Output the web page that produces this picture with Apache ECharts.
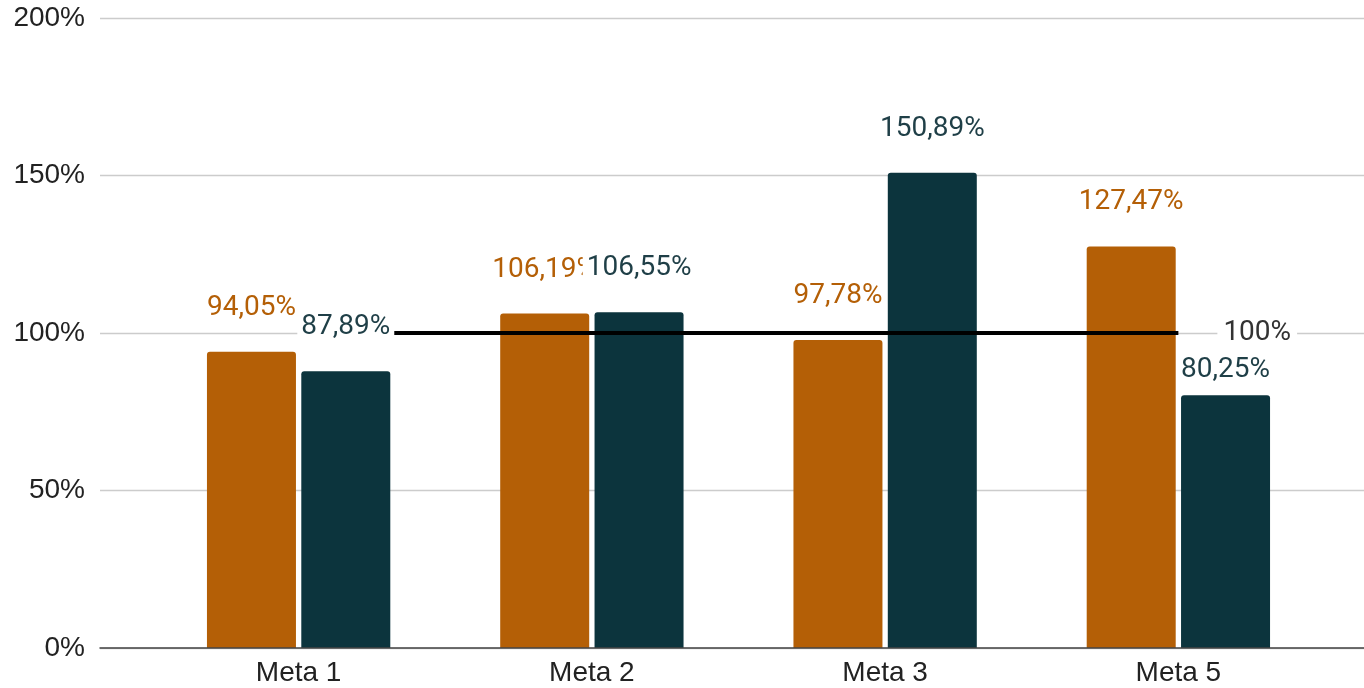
<!DOCTYPE html>
<html>
<head>
<meta charset="utf-8">
<script src="https://cdn.jsdelivr.net/npm/echarts@6/dist/echarts.min.js"></script>
<style>
html,body{margin:0;padding:0;background:#fff;}
#chart{width:1364px;height:688px;}
</style>
</head>
<body>
<div id="chart"></div>
<script>
const categories = ['Meta 1', 'Meta 2', 'Meta 3', 'Meta 5'];
const seriesA = [94.05, 106.19, 97.78, 127.47];
const seriesB = [87.89, 106.55, 150.89, 80.25];
const target = [100, 100, 100, 100];
const yTicks = [0, 50, 100, 150, 200];

const orange = '#b45f06';
const teal = '#0c343d';
const fmt = v => v.toFixed(2).replace('.', ',') + '%';

const labelBase = {
  show: true, position: 'top', fontFamily: 'Roboto', fontSize: 28, lineHeight: 32,
  backgroundColor: '#ffffff', padding: [1, 4]
};
const distA = [27, 27, 27, 27];
const distB = [27, 27, 27, 8];

const chart = echarts.init(document.getElementById('chart'), null, {renderer: 'canvas'});
const barW = 89;
const gap = '6%';

chart.setOption({
  animation: false,
  grid: [
    {left: 100, right: 0, top: 18, bottom: 40},
    {left: 152, right: 39, top: 18, bottom: 40}
  ],
  xAxis: [
    {gridIndex: 0, type: 'category', data: [''], axisLabel: {show: false}, axisTick: {show: false},
     axisLine: {show: true, lineStyle: {color: '#444', width: 1.5}}, z: 5},
    {gridIndex: 1, type: 'category', data: categories, axisTick: {show: false}, axisLine: {show: false},
     axisLabel: {fontFamily: 'Liberation Sans', fontSize: 28, color: '#222', margin: 11}},
    {gridIndex: 1, type: 'category', data: categories, show: false}
  ],
  yAxis: [
    {gridIndex: 0, type: 'value', min: yTicks[0], max: yTicks[yTicks.length - 1], interval: 50,
     axisLine: {show: false}, axisTick: {show: false},
     axisLabel: {formatter: '{value}%', fontFamily: 'Liberation Sans', fontSize: 28, color: '#222', margin: 15},
     splitLine: {lineStyle: {color: '#cccccc', width: 1.3}}},
    {gridIndex: 1, type: 'value', min: 0, max: 200, interval: 50, show: false, splitLine: {show: false}}
  ],
  series: [
    {type: 'bar', xAxisIndex: 1, yAxisIndex: 1, data: seriesA, barWidth: barW, barGap: gap, silent: true, z: 2,
     itemStyle: {color: orange, borderRadius: [3, 3, 0, 0]}},
    {type: 'bar', xAxisIndex: 1, yAxisIndex: 1, data: seriesB, barWidth: barW, barGap: gap, silent: true, z: 2,
     itemStyle: {color: teal, borderRadius: [3, 3, 0, 0]}},
    {type: 'line', xAxisIndex: 1, yAxisIndex: 1, data: target.map((v, i) => ({
        value: v,
        label: i === target.length - 1 ? {show: true, position: 'right', distance: 39, formatter: '100%',
          fontFamily: 'Roboto', fontSize: 28, lineHeight: 32, color: '#333', backgroundColor: '#fff', padding: [1, 6]} : {show: false}
      })),
     showSymbol: true, symbol: 'circle', symbolSize: 0, silent: true, z: 3,
     itemStyle: {color: '#000'},
     lineStyle: {color: '#000', width: 4}},
    {type: 'bar', xAxisIndex: 2, yAxisIndex: 1, barWidth: barW, barGap: gap, silent: true, z: 4,
     itemStyle: {color: 'rgba(0,0,0,0)'},
     data: seriesA.map((v, i) => ({value: v, label: Object.assign({}, labelBase, {color: orange, distance: distA[i], formatter: fmt(v)})}))},
    {type: 'bar', xAxisIndex: 2, yAxisIndex: 1, barWidth: barW, barGap: gap, silent: true, z: 4,
     itemStyle: {color: 'rgba(0,0,0,0)'},
     data: seriesB.map((v, i) => ({value: v, label: Object.assign({}, labelBase, {color: '#1f3f47', distance: distB[i], formatter: fmt(v)})}))}
  ]
});
</script>
</body>
</html>
